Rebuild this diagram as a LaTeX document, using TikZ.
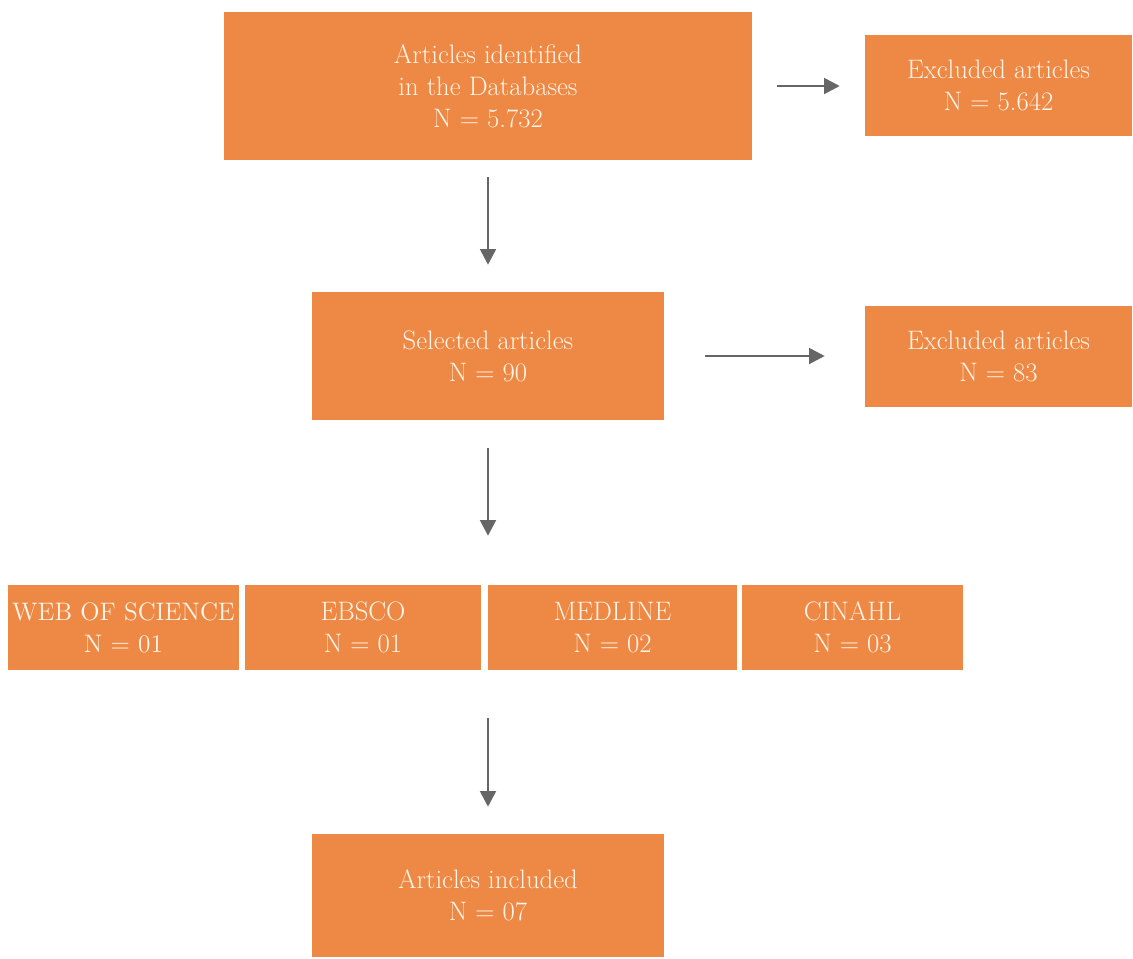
\documentclass[tikz,border=0pt]{standalone}
\usetikzlibrary{arrows.meta}
\definecolor{boxorange}{HTML}{EE8945}
\definecolor{boxtext}{HTML}{FFF4E8}
\definecolor{arrowgray}{HTML}{666666}
\tikzset{
  stage/.style={fill=boxorange, text=boxtext, align=center, inner sep=0pt,
    font=\fontsize{15.2}{18.1}\selectfont},
  flow/.style={draw=arrowgray, line width=1.1pt, -{Triangle[length=8.8pt,width=9pt]}}
}
\begin{document}
\begin{tikzpicture}[x=0.02cm,y=-0.02cm]
      \useasboundingbox (0,0) rectangle (1133,958);
      \draw
        (488,86) node[stage, minimum width=10.56cm, minimum height=2.96cm] (ident){Articles identified\\in the Databases\\N = 5.732}
        (998.5,85.5) node[stage, minimum width=5.34cm, minimum height=2.02cm] (excla){Excluded articles\\N = 5.642}
        (488,356) node[stage, minimum width=7.04cm, minimum height=2.56cm] (select){Selected articles\\N = 90}
        (998.5,356.5) node[stage, minimum width=5.34cm, minimum height=2.02cm] (exclb){Excluded articles\\N = 83}
        (123.5,627.5) node[stage, minimum width=4.62cm, minimum height=1.70cm, font=\fontsize{14.4}{18.1}\selectfont] (wos){WEB OF SCIENCE\\N = 01}
        (363,627.5) node[stage, minimum width=4.72cm, minimum height=1.70cm] (ebsco){EBSCO\\N = 01}
        (612.5,627.5) node[stage, minimum width=4.98cm, minimum height=1.70cm] (medline){MEDLINE\\N = 02}
        (852.5,627.5) node[stage, minimum width=4.42cm, minimum height=1.70cm] (cinahl){CINAHL\\N = 03}
        (488,895.5) node[stage, minimum width=7.04cm, minimum height=2.46cm] (incl){Articles included\\N = 07};
      \coordinate (rowtop) at (select.south |- wos.north);
      \coordinate (rowbot) at (incl.north |- wos.south);
      \begin{scope}[flow]
        \draw[shorten <=0.5cm, shorten >=0.5cm] (ident.east) to (ident.east -| excla.west);
        \draw[shorten <=0.34cm, shorten >=0.54cm] (ident.south) to (select.north);
        \draw[shorten <=0.82cm, shorten >=0.8cm] (select.east) to (select.east -| exclb.west);
        \draw[shorten <=0.56cm, shorten >=0.98cm] (select.south) to (rowtop);
        \draw[shorten <=0.96cm, shorten >=0.54cm] (rowbot) to (incl.north);
      \end{scope}
    \end{tikzpicture}
\end{document}
